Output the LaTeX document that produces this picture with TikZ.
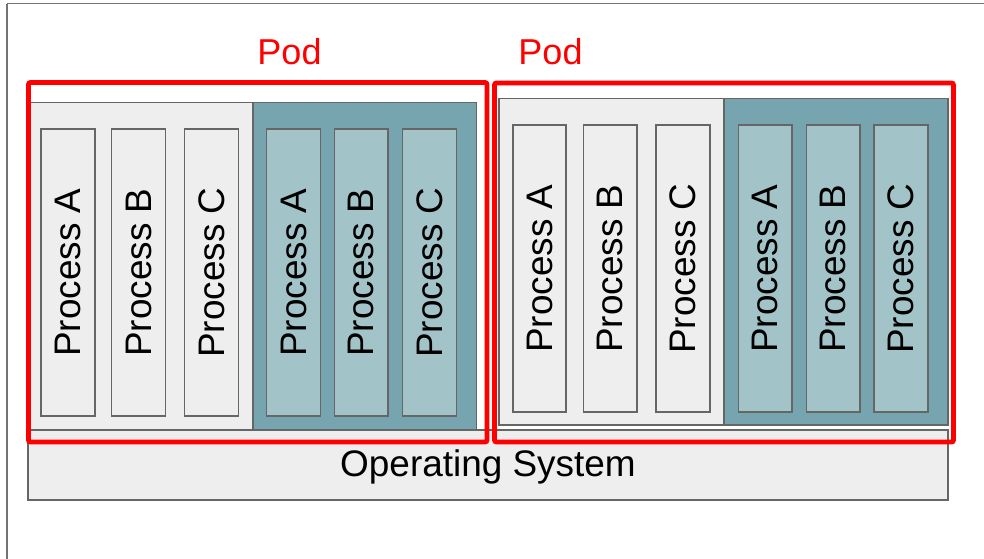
\documentclass[tikz,border=0pt]{standalone}
\usepackage{fontspec}
\setmainfont{Liberation Sans}
\definecolor{boxgray}{HTML}{EEEEEE}
\definecolor{edgegray}{HTML}{666666}
\definecolor{tealdark}{HTML}{76A5AF}
\definecolor{teallight}{HTML}{A2C4C9}
\definecolor{podred}{HTML}{FF0000}
\begin{document}
\begin{tikzpicture}[x=0.75pt,y=-0.75pt,
  lbl/.style={font=\fontsize{27.7}{30}\selectfont, text=black, inner sep=0pt},
  panel/.style={draw=edgegray, line width=1.1pt},
  graypanel/.style={panel, fill=boxgray},
  tealpanel/.style={panel, fill=tealdark},
  procgray/.style={draw=edgegray, line width=1.1pt, fill=boxgray},
  procteal/.style={draw=edgegray, line width=1.1pt, fill=teallight},
  podbox/.style={draw=podred, line width=3.6pt, rounded corners=1.5pt},
  podlbl/.style={font=\fontsize{27}{30}\selectfont, text=podred, inner sep=0pt}]
\useasboundingbox (0,0) rectangle (984,558);
% outer frame
\draw[draw=black!55, line width=1.1pt] (7,3.5) -- (1000,3.5);
\draw[draw=black!55, line width=1.1pt] (7,3.5) -- (7,570);
% operating system
\draw[graypanel] (28,430) rectangle (948,500);
\node[lbl] (ostext) at (488,467) {Operating System};
% left pod panels
\draw[graypanel] (28,102.5) rectangle (253,429.5);
\draw[tealpanel] (253,102.5) rectangle (476.5,429.5);
% right pod panels
\draw[graypanel] (499,98.5) rectangle (724,425);
\draw[tealpanel] (724,98.5) rectangle (948,425);
% left pod processes
\foreach \xa/\xb/\st/\txt/\nm in {41/95/procgray/A/la, 111.5/165.5/procgray/B/lb, 184.5/238.5/procgray/C/lc,
  266.5/320.5/procteal/A/ld, 334.5/388/procteal/B/le, 402.5/456.5/procteal/C/lf}{
  \draw[\st] (\xa,129) rectangle (\xb,416);
  \node[lbl, rotate=90] (\nm) at ({(\xa+\xb)/2},272.5) {Process \txt};
}
% right pod processes
\foreach \xa/\xb/\st/\txt/\nm in {513/566/procgray/A/ra, 583.5/637/procgray/B/rb, 656/710/procgray/C/rc,
  738.5/792/procteal/A/rd, 806.5/860/procteal/B/re, 874/928/procteal/C/rf}{
  \draw[\st] (\xa,125) rectangle (\xb,412);
  \node[lbl, rotate=90] (\nm) at ({(\xa+\xb)/2},268.5) {Process \txt};
}
% pods
\draw[podbox] (28.5,82.5) rectangle (487,442);
\draw[podbox] (494.5,83) rectangle (953.5,442);
\node[podlbl] (pod1) at (289.5,52) {Pod};
\node[podlbl] (pod2) at (550.5,52) {Pod};
\end{tikzpicture}
\end{document}
